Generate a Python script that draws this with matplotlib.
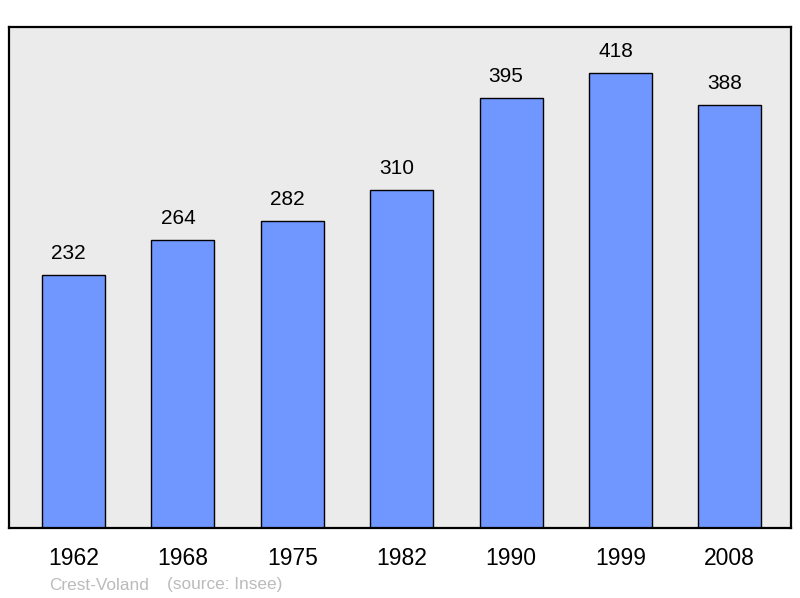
import matplotlib
matplotlib.use("Agg")
import matplotlib.pyplot as plt

years = ["1962", "1968", "1975", "1982", "1990", "1999", "2008"]
population = [232, 264, 282, 310, 395, 418, 388]

plt.rcParams['font.family'] = ['Liberation Sans', 'DejaVu Sans']

fig = plt.figure(figsize=(8, 5.98), dpi=100)
ax = fig.add_axes([9/800, 70/598, 782/800, 501/598])
ax.set_facecolor('#EBEBEB')

x = list(range(len(years)))
bars = ax.bar(x, population, width=0.576, color='#7096FF', edgecolor='black', linewidth=1.0)
for xi, v in zip(x, population):
    ax.annotate(str(v), (xi, v), xytext=(-3.5, 15.5), textcoords='offset points',
                ha='center', va='center', fontsize=15, color='black')

ax.set_xlim(-0.59, 6.56)
ax.set_ylim(0, 460)
ax.set_xticks(x)
ax.set_xticklabels(years, fontsize=16.5)
ax.tick_params(axis='x', length=0, pad=13.5)
ax.set_yticks([])
for s in ax.spines.values():
    s.set_linewidth(1.6)
    s.set_color('black')

fig.text(49/800, 1 - 585/598, "Crest-Voland", fontsize=12.4, color='#BBBBBB', ha='left', va='center')
fig.text(167/800, 1 - 585/598, "(source: Insee)", fontsize=12.4, color='#BBBBBB', ha='left', va='center')

fig.savefig("out.png", dpi=100)
